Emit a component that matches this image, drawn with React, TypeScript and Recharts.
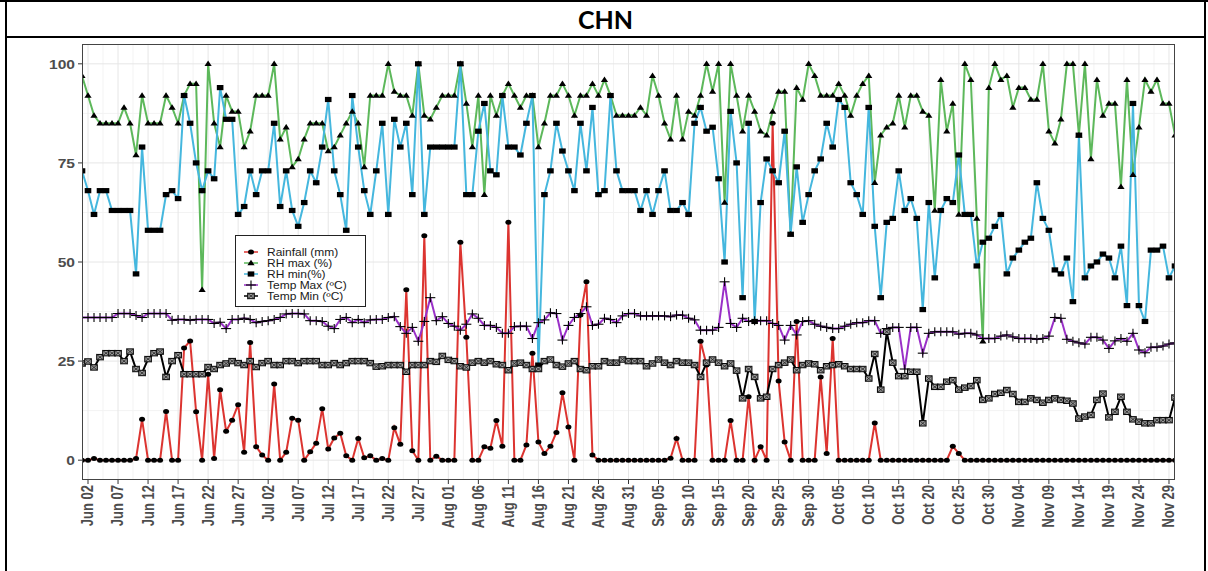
import React from 'react';
import { LineChart, Line, XAxis, YAxis, CartesianGrid } from 'recharts';

// daily readings, Jun 01 .. Nov 30 (183 days)
const RAINFALL = [
  0, 0, 0.4, 0, 0, 0, 0, 0, 0, 0.4,
  10.3, 0, 0, 0, 12.3, 0, 0, 28.3, 30.1, 12.2,
  0, 21.7, 0.4, 17.8, 7.3, 10.1, 14, 2, 29.7, 3.4,
  1.3, 0, 19.2, 0, 2, 10.6, 10.1, 0, 2.1, 4.3,
  13, 2.8, 5.6, 6.8, 1.1, 0, 5.5, 0.6, 1.1, 0,
  0.4, 0, 8.2, 4, 43, 2.4, 0, 56.6, 0, 1,
  0, 0, 0, 55, 31, 0, 0, 3.4, 3, 10,
  3.5, 60, 0, 0, 3.8, 27, 4.6, 1.7, 3.5, 7,
  17, 8.4, 0, 36.6, 45, 1.3, 0, 0, 0, 0,
  0, 0, 0, 0, 0, 0, 0, 0, 0.5, 5.5,
  0, 0, 0, 30, 24, 0, 0, 0, 10, 0,
  0, 16, 0, 3.4, 0, 85, 20, 4.6, 0, 35,
  0, 0, 0, 21, 1.7, 30.7, 0, 0, 0, 0,
  0, 0, 9.4, 0, 0, 0, 0, 0, 0, 0,
  0, 0, 0, 0, 0, 3.5, 1.7, 0, 0, 0,
  0, 0, 0, 0, 0, 0, 0, 0, 0, 0,
  0, 0, 0, 0, 0, 0, 0, 0, 0, 0,
  0, 0, 0, 0, 0, 0, 0, 0, 0, 0,
  0, 0, 0,
];

const RH_MAX = [
  97, 92, 87, 85, 85, 85, 85, 89, 85, 77,
  92, 85, 85, 85, 92, 89, 85, 92, 95, 95,
  43, 100, 85, 79, 92, 88, 88, 79, 83, 92,
  92, 92, 100, 81, 84, 74, 76, 81, 85, 85,
  85, 78, 79, 82, 85, 88, 85, 74, 92, 92,
  92, 100, 93, 92, 92, 87, 100, 87, 86, 89,
  92, 92, 92, 100, 90, 79, 92, 67, 92, 87,
  92, 95, 92, 89, 92, 92, 79, 85, 92, 92,
  95, 92, 87, 92, 92, 95, 92, 96, 92, 87,
  87, 87, 87, 89, 87, 97, 92, 85, 81, 92,
  81, 88, 87, 92, 100, 93, 100, 65, 100, 92,
  83, 92, 88, 83, 82, 88, 93, 93, 57, 94,
  91, 100, 97, 92, 92, 92, 95, 92, 87, 92,
  95, 97, 70, 82, 84, 85, 92, 84, 92, 92,
  88, 87, 63, 96, 83, 90, 62, 100, 96, 61,
  30, 94, 100, 96, 97, 89, 94, 94, 91, 91,
  100, 83, 80, 86, 100, 100, 82, 100, 76, 96,
  87, 90, 90, 69, 96, 72, 84, 96, 93, 96,
  90, 90, 82,
];

const RH_MIN = [
  73, 68, 62, 68, 68, 63, 63, 63, 63, 47,
  79, 58, 58, 58, 67, 68, 66, 92, 85, 75,
  68, 73, 71, 94, 86, 86, 62, 64, 73, 67,
  73, 73, 85, 64, 73, 63, 59, 65, 73, 70,
  79, 91, 73, 67, 58, 92, 79, 68, 62, 73,
  85, 62, 86, 79, 85, 67, 100, 62, 79, 79,
  79, 79, 79, 100, 67, 67, 83, 90, 73, 72,
  92, 79, 79, 77, 85, 92, 24, 67, 73, 85,
  78, 73, 68, 85, 73, 89, 67, 68, 92, 73,
  68, 68, 68, 63, 68, 62, 68, 73, 63, 63,
  65, 62, 85, 89, 83, 84, 71, 50, 88, 75,
  41, 85, 35, 65, 76, 73, 70, 83, 57, 74,
  60, 67, 73, 76, 85, 79, 91, 89, 70, 67,
  62, 89, 59, 41, 60, 61, 73, 63, 66, 61,
  38, 65, 46, 63, 66, 65, 77, 62, 62, 49,
  55, 56, 59, 62, 47, 51, 53, 55, 56, 70,
  61, 58, 48, 47, 51, 40, 82, 46, 49, 50,
  52, 51, 46, 54, 39, 90, 39, 35, 53, 53,
  54, 46, 49,
];

const TEMP_MAX = [
  36, 36, 36, 36, 36, 36, 37, 37, 37, 36.5,
  36, 37, 37, 37, 37, 35.3, 35.5, 35.5, 35.3, 35.5,
  35.5, 35.5, 34.5, 34.8, 33.2, 35.5, 35.5, 35.8, 35.5, 34.7,
  35, 35.2, 35.5, 36, 36.9, 37, 37, 36.9, 35.2, 35.2,
  35, 33.8, 33.2, 35.5, 36, 34.7, 35.5, 34.7, 35.4, 35.5,
  35.5, 36, 36.2, 33.7, 32, 33.5, 30, 35, 41, 35.2,
  36.2, 34.5, 33.8, 32.8, 34.3, 36.9, 35.8, 34, 34, 33.5,
  32, 32, 33.7, 33.8, 33.8, 30.7, 34.7, 35.4, 37.2, 37,
  30.3, 34, 36, 37, 38.7, 34, 34.3, 35.8, 35.5, 34.7,
  36.4, 37, 37, 36.4, 36.4, 36.4, 36.4, 36.4, 36.2, 36.6,
  36.6, 35.8, 35.4, 32.8, 32.8, 32.8, 33.5, 45, 34.5, 33.5,
  35.8, 35, 35.2, 35.2, 35.2, 34.5, 34, 30.3, 34, 31.6,
  35, 35.2, 34.3, 33.8, 33.5, 33.2, 33.2, 33.8, 34.3, 34.7,
  34.7, 35.2, 35.2, 32, 33.2, 33.5, 33.5, 23, 33.5, 33.5,
  27, 32, 32.4, 32.4, 32.4, 32.4, 31.8, 32, 32, 31.6,
  30.7, 30.7, 30.7, 31.3, 31.6, 31.1, 30.7, 30.7, 30.7, 30.5,
  30.7, 31.3, 36, 35.8, 30.5, 30, 29.6, 29.3, 31, 31,
  30.3, 28.2, 30.1, 30.7, 30, 32, 27.8, 27.1, 28.5, 28.5,
  28.8, 29.3, 29.6,
];

const TEMP_MIN = [
  24.4, 24.9, 23.4, 26, 27, 27, 27, 25, 27.4, 23,
  22, 25.5, 27, 27.4, 21, 25, 26.5, 21.7, 21.7, 21.7,
  21.7, 23.5, 23, 24, 24.4, 25, 24.5, 24, 25, 23.5,
  24.5, 25, 24, 24, 25, 25, 24.5, 25, 25, 25,
  24, 24, 24.5, 24, 24.5, 25, 25, 25, 24.5, 23.6,
  23.7, 24, 24, 24, 22.3, 24, 24, 24, 25, 24.8,
  26.3, 25.3, 25, 23.7, 23.4, 24.6, 25, 24.6, 25, 24.2,
  24, 22.7, 24.4, 24.6, 24, 23, 23, 25, 25.4, 24,
  23.6, 24.4, 25, 23, 22.7, 23.7, 23.7, 25, 24.6, 24.6,
  25.4, 25, 25, 25, 23.7, 24.4, 25.4, 24.6, 24, 25,
  24.6, 24.6, 24, 21, 24.6, 25.4, 24.6, 23.7, 24.4, 22.6,
  15.6, 23, 21, 15.6, 16, 23, 24, 24.6, 25.4, 22.7,
  24, 24.4, 24.2, 22.7, 23.7, 24, 24.2, 23.7, 23, 23,
  23, 20.6, 26.8, 17.8, 32.4, 24.6, 21.2, 21.2, 22.3, 22.3,
  9.3, 20.6, 18.5, 18.5, 19.8, 20.2, 17.8, 18.3, 18.7, 20.2,
  15.2, 15.6, 16.7, 17, 17.7, 16.7, 14.7, 14.7, 15.6, 15.2,
  14.5, 15.2, 15.6, 15.2, 15, 14.3, 10.5, 11, 11.4, 15.2,
  16.8, 10.8, 12.2, 16, 12.2, 10.3, 9.7, 9.3, 9.3, 10.1,
  10.1, 10.1, 15.8,
];

const TICK_LABELS = [
  'Jun 02', 'Jun 07', 'Jun 12', 'Jun 17', 'Jun 22', 'Jun 27',
  'Jul 02', 'Jul 07', 'Jul 12', 'Jul 17', 'Jul 22', 'Jul 27',
  'Aug 01', 'Aug 06', 'Aug 11', 'Aug 16', 'Aug 21', 'Aug 26', 'Aug 31',
  'Sep 05', 'Sep 10', 'Sep 15', 'Sep 20', 'Sep 25', 'Sep 30',
  'Oct 05', 'Oct 10', 'Oct 15', 'Oct 20', 'Oct 25', 'Oct 30',
  'Nov 04', 'Nov 09', 'Nov 14', 'Nov 19', 'Nov 24', 'Nov 29',
];
const TICK_DAYS = TICK_LABELS.map((_, k) => 1 + 5 * k);
const MINOR_DAYS = TICK_DAYS.slice(0, -1).map(d => d + 2.5);
const Y_TICKS = [0, 25, 50, 75, 100];
const Y_MINOR = [12.5, 37.5, 62.5, 87.5];

const SERIES = [
  { key: 'rain', name: 'Rainfall (mm)', color: '#DC3430', shape: 'circle' },
  { key: 'rhMax', name: 'RH max (%)', color: '#5DB85B', shape: 'triangle' },
  { key: 'rhMin', name: 'RH min(%)', color: '#45B7DE', shape: 'square' },
  { key: 'tMax', name: 'Temp Max (ºC)', color: '#9A30C8', shape: 'plus' },
  { key: 'tMin', name: 'Temp Min (ºC)', color: '#000000', shape: 'boxX' },
];

const data = RAINFALL.map((r, i) => ({
  day: i,
  rain: r,
  rhMax: RH_MAX[i],
  rhMin: RH_MIN[i],
  tMax: TEMP_MAX[i],
  tMin: TEMP_MIN[i],
}));

const FONT = "'Liberation Sans', Arial, sans-serif";

function Marker({ cx, cy, shape }: { cx: number; cy: number; shape: string }) {
  if (cx == null || cy == null || isNaN(cy)) return null;
  switch (shape) {
    case 'circle':
      return <ellipse cx={cx} cy={cy} rx={3} ry={2.5} fill="#000" />;
    case 'triangle':
      return (
        <polygon
          points={`${cx},${cy - 3.2} ${cx - 3.6},${cy + 2.3} ${cx + 3.6},${cy + 2.3}`}
          fill="#000"
        />
      );
    case 'square':
      return <rect x={cx - 3.3} y={cy - 2.6} width={6.6} height={5.2} fill="#000" />;
    case 'plus':
      return (
        <g stroke="#000" strokeWidth={1.1}>
          <line x1={cx - 5} x2={cx + 5} y1={cy} y2={cy} />
          <line x1={cx} x2={cx} y1={cy - 4.5} y2={cy + 4.5} />
        </g>
      );
    default:
      return (
        <g stroke="#000" strokeWidth={1} fill="#9a9a9a">
          <rect x={cx - 3.3} y={cy - 2.7} width={6.6} height={5.4} />
          <line x1={cx - 3.3} y1={cy - 2.7} x2={cx + 3.3} y2={cy + 2.7} stroke="#222" strokeWidth={0.8} />
          <line x1={cx - 3.3} y1={cy + 2.7} x2={cx + 3.3} y2={cy - 2.7} stroke="#222" strokeWidth={0.8} />
        </g>
      );
  }
}

const XTick = ({ x, y, payload }: any) => {
  const label = TICK_LABELS[Math.round((payload.value - 1) / 5)];
  return (
    <text
      transform={`translate(${x},${y}) scale(1.2,1) rotate(-90)`}
      textAnchor="end"
      dy="0.35em"
      fontSize={13}
      fontWeight="bold"
      fill="#4D4D4D"
      fontFamily={FONT}
    >
      {label}
    </text>
  );
};

const YTick = ({ x, y, payload }: any) => (
  <text
    transform={`translate(${x},${y}) scale(1.2,1)`}
    textAnchor="end"
    dy="0.36em"
    fontSize={13}
    fontWeight="bold"
    fill="#4D4D4D"
    fontFamily={FONT}
  >
    {payload.value}
  </text>
);

function ChartLegend() {
  return (
    <svg
      width={131}
      height={72}
      style={{ position: 'absolute', left: 235, top: 235 }}
    >
      <rect x={0.5} y={0.5} width={130} height={71} fill="#fff" stroke="#222" strokeWidth={1} />
      {SERIES.map((s, i) => {
        const cy = 17 + i * 11;
        return (
          <g key={s.key}>
            <line x1={9} x2={23} y1={cy} y2={cy} stroke={s.color} strokeWidth={1.5} />
            <Marker cx={16} cy={cy} shape={s.shape} />
            <text
              transform={`translate(32,${cy}) scale(1.2,1)`}
              dy="0.36em"
              fontSize={10}
              fill="#1a1a1a"
              fontFamily={FONT}
            >
              {s.name}
            </text>
          </g>
        );
      })}
    </svg>
  );
}

export default function App() {
  return (
    <div style={{ position: 'absolute', left: 0, top: 0, width: 1208, height: 571, background: '#fff' }}>
      <div style={{ position: 'absolute', left: 0, top: 0, width: 1208, height: 2, background: '#000' }} />
      <div style={{ position: 'absolute', left: 5, top: 0, width: 2, height: 571, background: '#000' }} />
      <div style={{ position: 'absolute', left: 1204, top: 0, width: 2, height: 571, background: '#000' }} />
      <div style={{ position: 'absolute', left: 5, top: 36, width: 1201, height: 2, background: '#000' }} />
      <div
        style={{
          position: 'absolute',
          left: 7,
          top: 2,
          width: 1197,
          height: 34,
          display: 'flex',
          alignItems: 'center',
          justifyContent: 'center',
          fontFamily: 'Lato, sans-serif',
          fontWeight: 700,
          fontSize: 25,
          color: '#000',
        }}
      >
        CHN
      </div>

      <div style={{ position: 'absolute', left: 0, top: 0 }}>
        <LineChart
          width={1208}
          height={571}
          data={data}
          margin={{ top: 44, right: 33, left: 22, bottom: 31 }}
        >
          <CartesianGrid stroke="#F3F3F3" horizontalValues={Y_MINOR} verticalValues={MINOR_DAYS} />
          <CartesianGrid stroke="#E6E6E6" horizontalValues={Y_TICKS} verticalValues={TICK_DAYS} />
          <XAxis
            dataKey="day"
            type="number"
            domain={[0, 182]}
            ticks={TICK_DAYS}
            interval={0}
            allowDataOverflow
            height={60}
            tickSize={4}
            tickMargin={1}
            axisLine={false}
            tickLine={{ stroke: '#333' }}
            tick={<XTick />}
          />
          <YAxis
            type="number"
            domain={[-5, 105]}
            ticks={Y_TICKS}
            allowDataOverflow
            width={60}
            tickSize={4}
            tickMargin={3}
            axisLine={false}
            tickLine={{ stroke: '#333' }}
            tick={<YTick />}
          />
          {SERIES.map(s => (
            <Line
              key={s.key}
              type="linear"
              dataKey={s.key}
              stroke={s.color}
              strokeWidth={2}
              isAnimationActive={false}
              activeDot={false}
              dot={(p: any) => (
                <Marker key={`${s.key}-${p.index}`} cx={p.cx} cy={p.cy} shape={s.shape} />
              )}
            />
          ))}
        </LineChart>
      </div>

      <div
        style={{
          position: 'absolute',
          left: 82,
          top: 44,
          width: 1093,
          height: 436,
          border: '1px solid #444',
          boxSizing: 'border-box',
          pointerEvents: 'none',
        }}
      />
      <ChartLegend />
    </div>
  );
}
